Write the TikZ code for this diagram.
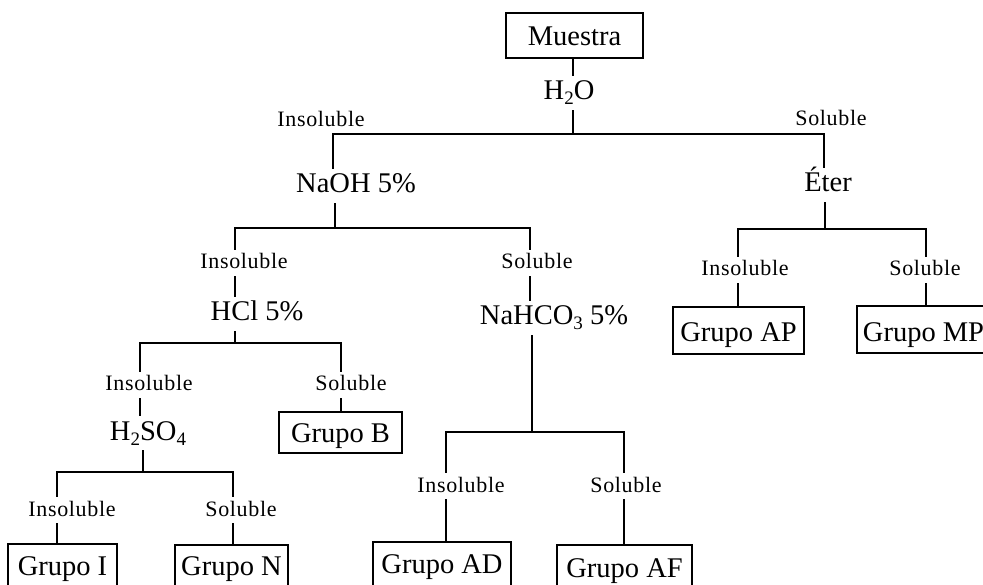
\documentclass[tikz,border=0pt]{standalone}
\usepackage{fontspec}
\setmainfont{Liberation Serif}
\newfontfamily\smallserif[LetterSpace=3]{Liberation Serif}
\newcommand\chemsub[1]{\raisebox{-5pt}{\fontsize{19}{19}\selectfont #1}}
\begin{document}
\begin{tikzpicture}[x=1pt,y=-1pt,
  big/.style={font=\fontsize{28.5}{30}\selectfont, inner xsep=2pt, inner ysep=4pt, text height=20pt, text depth=6pt, anchor=base},
  lbl/.style={font=\fontsize{22}{24}\smallserif, inner xsep=2pt, inner ysep=3pt, text height=16pt, text depth=4pt, anchor=base},
  grp/.style={draw, line width=1.6pt, font=\fontsize{28.5}{30}\selectfont, inner sep=0pt, anchor=base},
  conn/.style={line width=1.5pt}]
\useasboundingbox (0,0) rectangle (983,585);
\clip (0,0) rectangle (983,585);
% nodes
\node[grp, minimum width=137pt, text height=33pt, text depth=12pt] (muestra) at (574.5,46) {Muestra};
\node[big] (h2o) at (569,100) {H\chemsub{2}O};
\node[lbl] (ins0) at (321,127) {Insoluble};
\node[lbl] (sol0) at (831,126) {Soluble};
\node[big] (naoh) at (356,193) {NaOH 5\%};
\node[big] (eter) at (828,192) {Éter};
\node[lbl] (ins1) at (244,269) {Insoluble};
\node[lbl] (sol1) at (537,269) {Soluble};
\node[big] (hcl) at (257,321) {HCl 5\%};
\node[big] (nahco) at (554,325) {NaHCO\chemsub{3} 5\%};
\node[lbl] (ins2) at (149,391) {Insoluble};
\node[lbl] (sol2) at (351,391) {Soluble};
\node[big] (h2so4) at (148,440) {H\chemsub{2}SO\chemsub{4}};
\node[grp, minimum width=123pt, text height=30pt, text depth=11pt] (gB) at (340.5,442) {Grupo B};
\node[lbl] (ins3) at (72,516) {Insoluble};
\node[lbl] (sol3) at (241,516) {Soluble};
\node[grp, minimum width=109pt, text height=31pt, text depth=14pt] (gI) at (62.5,575) {Grupo I};
\node[grp, minimum width=113pt, text height=30pt, text depth=14pt] (gN) at (231.5,575) {Grupo N};
\node[lbl] (ins4) at (461,492) {Insoluble};
\node[lbl] (sol4) at (626,492) {Soluble};
\node[grp, minimum width=138pt, text height=31pt, text depth=16pt] (gAD) at (442,573) {Grupo AD};
\node[grp, minimum width=135pt, text height=32pt, text depth=12pt] (gAF) at (624.5,577) {Grupo AF};
\node[lbl] (ins5) at (745,276) {Insoluble};
\node[lbl] (sol5) at (925,276) {Soluble};
\node[grp, minimum width=131pt, text height=35pt, text depth=12pt] (gAP) at (738.5,342) {Grupo AP};
\node[grp, minimum width=133pt, text height=36pt, text depth=11pt] (gMP) at (923.5,342) {Grupo MP};
% junction coordinates
\coordinate (j0) at (573,134); \coordinate (l0) at (333,134); \coordinate (r0) at (824,134);
\coordinate (j1) at (335,228); \coordinate (l1) at (235,228); \coordinate (r1) at (530,228);
\coordinate (j5) at (825,229); \coordinate (l5) at (738,229); \coordinate (r5) at (926,229);
\coordinate (j2) at (235,343); \coordinate (l2) at (140,343); \coordinate (r2) at (341,343);
\coordinate (j3) at (143,472); \coordinate (l3) at (57,472);  \coordinate (r3) at (233,472);
\coordinate (j4) at (532,432); \coordinate (l4) at (446,432); \coordinate (r4) at (624,432);
% connectors
\draw[conn] (muestra.south -| j0) -- (h2o.north -| j0);
\draw[conn] (h2o.south -| j0) -- (j0);
\draw[conn] (naoh.north -| l0) -- (l0) -- (r0) -- (eter.north -| r0);
\draw[conn] (naoh.south -| j1) -- (j1);
\draw[conn] (ins1.north -| l1) -- (l1) -- (r1) -- (sol1.north -| r1);
\draw[conn] (ins1.south -| l1) -- (hcl.north -| l1);
\draw[conn] (sol1.south -| r1) -- (nahco.north -| r1);
\draw[conn] (eter.south -| j5) -- (j5);
\draw[conn] (ins5.north -| l5) -- (l5) -- (r5) -- (sol5.north -| r5);
\draw[conn] (ins5.south -| l5) -- (gAP.north -| l5);
\draw[conn] (sol5.south -| r5) -- (gMP.north -| r5);
\draw[conn] (hcl.south -| j2) -- (j2);
\draw[conn] (ins2.north -| l2) -- (l2) -- (r2) -- (sol2.north -| r2);
\draw[conn] (ins2.south -| l2) -- (h2so4.north -| l2);
\draw[conn] (sol2.south -| r2) -- (gB.north -| r2);
\draw[conn] (h2so4.south -| j3) -- (j3);
\draw[conn] (ins3.north -| l3) -- (l3) -- (r3) -- (sol3.north -| r3);
\draw[conn] (ins3.south -| l3) -- (gI.north -| l3);
\draw[conn] (sol3.south -| r3) -- (gN.north -| r3);
\draw[conn] (nahco.south -| j4) -- (j4);
\draw[conn] (ins4.north -| l4) -- (l4) -- (r4) -- (sol4.north -| r4);
\draw[conn] (ins4.south -| l4) -- (gAD.north -| l4);
\draw[conn] (sol4.south -| r4) -- (gAF.north -| r4);
\end{tikzpicture}
\end{document}
